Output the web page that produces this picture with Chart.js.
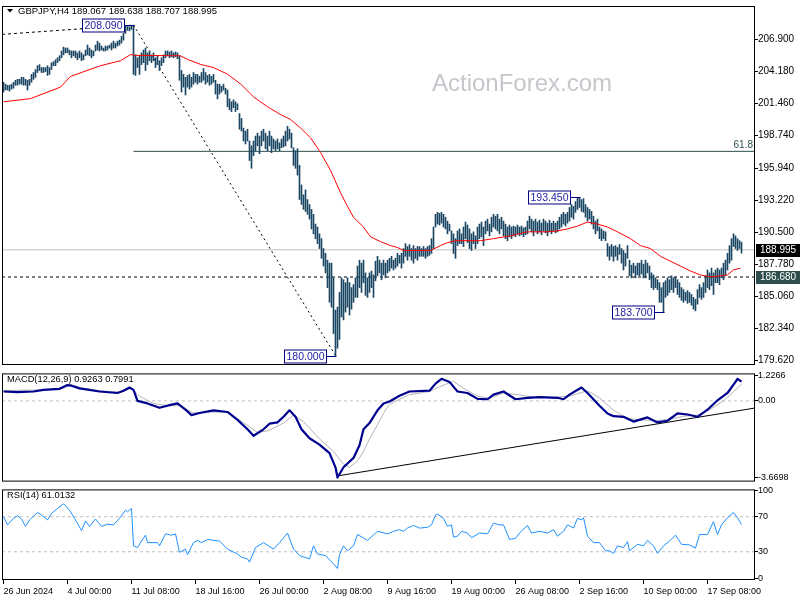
<!DOCTYPE html>
<html><head><meta charset="utf-8">
<script src="https://cdn.jsdelivr.net/npm/chart.js@4/dist/chart.umd.min.js"></script>
<style>
html,body{margin:0;padding:0;background:#fff;width:800px;height:600px;overflow:hidden}
canvas{position:absolute;left:0}
#cMain{top:0}
#cMacd{top:368px}
#cRsi{top:484px}
</style></head><body>
<canvas id="cMain" width="800" height="371"></canvas>
<canvas id="cMacd" width="800" height="119"></canvas>
<canvas id="cRsi" width="800" height="116"></canvas>
<script>
// ---------------- DATA ----------------
const symbolTitle = 'GBPJPY,H4 189.067 189.638 188.707 188.995';
const macdTitle = 'MACD(12,26,9) 0.9263 0.7991';
const rsiTitle = 'RSI(14) 61.0132';
const watermark = 'ActionForex.com';

const high = [
203.23,203.07,202.98,202.98,203.07,203.23,203.40,203.48,203.48,203.65,
203.65,203.48,203.40,203.48,203.90,204.06,204.31,204.64,204.73,204.48,
204.48,204.48,204.64,204.48,204.89,204.98,205.14,205.31,205.48,205.89,
206.22,206.14,206.14,205.97,205.89,205.89,205.89,205.73,205.89,205.73,
205.56,205.97,206.39,206.14,205.97,205.89,206.39,206.72,206.56,206.31,
206.14,206.31,206.31,206.39,206.56,206.72,206.56,206.72,206.81,207.14,
207.39,208.05,207.98,207.95,208.00,208.09,205.56,205.31,205.48,205.73,
205.97,206.14,205.73,205.89,205.56,205.73,205.31,205.48,205.06,205.31,
205.56,205.89,205.89,205.81,205.89,205.73,205.81,205.73,205.48,204.23,
203.90,203.65,203.81,203.90,203.65,204.06,203.90,203.90,203.73,204.06,
204.39,204.06,203.81,203.90,203.73,203.90,203.40,203.07,203.07,202.90,
203.07,202.73,202.57,201.82,201.57,201.74,201.57,201.40,200.57,200.16,
199.33,199.08,199.24,198.24,197.83,198.24,198.66,198.91,198.66,199.08,
199.24,198.91,198.66,199.08,198.66,198.41,198.24,198.41,198.08,198.41,
198.66,199.08,199.49,199.24,198.91,197.66,197.41,197.58,196.17,194.50,
193.67,194.09,193.26,192.84,192.43,192.01,191.18,190.93,190.35,189.94,
189.10,188.69,188.11,187.86,187.86,186.61,183.87,184.12,185.37,186.61,
186.45,186.20,186.61,186.20,185.78,186.03,186.61,187.61,188.11,187.86,
188.11,187.03,186.61,187.03,187.19,186.86,188.02,188.44,188.11,187.86,
188.11,187.86,188.11,188.27,188.44,188.11,188.27,188.69,188.52,188.69,
189.10,189.52,189.27,189.44,189.10,189.35,189.10,189.27,189.27,189.10,
189.27,189.10,189.27,189.35,189.94,190.93,192.01,192.18,192.09,192.18,
192.01,191.76,191.43,191.18,190.60,190.35,189.94,190.60,190.77,190.35,
190.93,191.35,191.10,190.77,190.35,190.52,190.18,190.93,191.18,191.35,
190.93,191.43,191.60,191.18,191.76,192.01,191.85,192.01,191.60,191.76,
191.43,191.18,190.93,191.10,190.93,191.01,190.93,191.10,190.93,191.01,
190.85,190.93,191.43,191.85,191.60,191.43,191.60,191.35,191.51,191.26,
191.60,191.43,191.26,191.51,191.26,191.43,191.26,191.43,191.76,192.01,
192.18,192.01,192.18,192.59,192.84,192.68,193.09,193.43,193.45,193.26,
193.34,192.84,192.59,192.43,192.26,191.85,191.43,191.60,190.93,190.77,
190.60,190.52,189.52,189.27,189.44,189.27,189.35,189.19,189.44,189.10,
188.94,188.69,189.35,188.11,187.69,187.86,187.61,187.86,187.86,188.11,
187.78,188.11,187.86,187.61,187.03,186.86,186.61,186.45,186.20,185.78,
186.20,186.36,186.61,186.45,186.78,186.61,186.70,186.45,186.20,185.78,
185.61,185.37,185.53,185.37,185.20,184.95,184.78,185.61,186.03,185.78,
186.20,186.78,187.28,187.03,187.44,187.03,187.28,187.44,187.28,187.44,
187.86,188.11,188.69,189.35,189.94,190.35,190.18,189.94,189.77,189.64
];
const low = [
202.40,202.57,202.57,202.48,202.65,202.73,202.98,202.98,203.07,203.07,
202.98,202.98,202.57,202.98,203.23,203.48,203.65,204.06,204.23,204.06,
204.06,204.14,203.81,203.90,204.31,204.64,204.64,204.89,205.06,205.31,
205.56,205.73,205.73,205.56,205.31,205.48,205.31,205.14,205.31,205.06,
205.14,205.48,205.56,205.48,205.31,205.48,205.89,205.97,205.89,205.97,
205.89,205.89,205.97,206.14,205.97,206.14,206.14,206.31,206.39,206.56,
206.81,207.39,207.64,207.60,207.72,203.90,203.81,204.48,203.90,204.73,
204.89,204.23,204.73,205.06,204.89,205.06,204.48,204.73,204.23,204.64,
204.89,205.31,205.48,205.31,205.39,205.31,205.39,205.23,203.40,202.40,
202.82,202.15,202.82,202.65,202.82,203.07,203.23,203.07,203.23,203.23,
203.40,203.07,203.23,202.98,203.07,203.23,202.23,201.82,202.23,202.40,
202.57,202.23,201.15,200.90,200.74,201.07,200.74,200.90,199.24,199.08,
198.24,197.99,198.24,196.58,195.92,197.00,197.41,197.83,197.16,197.83,
198.24,197.58,197.41,197.83,197.25,197.58,197.41,197.58,197.41,197.66,
197.74,197.83,198.24,198.41,197.66,196.17,195.92,195.34,193.26,192.84,
192.43,192.26,192.01,191.60,190.77,190.35,189.94,189.52,189.10,188.27,
187.61,187.03,185.78,184.53,184.12,181.88,180.00,180.63,181.38,183.29,
183.04,183.70,184.12,183.45,183.95,184.53,184.95,184.95,185.78,185.37,
186.20,185.12,184.95,185.37,185.78,184.95,186.36,186.78,187.03,186.45,
186.86,186.61,187.03,187.19,187.44,187.28,187.44,187.61,187.86,187.44,
187.86,188.44,188.11,188.44,188.11,187.86,188.27,188.11,188.44,188.44,
188.44,188.27,188.44,188.52,188.69,189.10,190.93,191.18,191.10,191.26,
190.93,190.77,190.35,190.60,189.52,188.69,188.27,189.35,189.52,189.52,
189.27,189.94,189.60,189.10,188.94,189.52,189.10,189.52,189.94,190.10,
189.35,190.35,190.60,190.18,190.52,190.93,190.77,190.60,190.35,190.77,
190.18,189.94,189.77,190.10,189.94,190.18,190.10,190.35,190.18,190.27,
190.10,190.27,190.35,190.77,190.52,190.18,190.60,190.35,190.52,190.27,
190.60,190.43,190.18,190.52,190.35,190.60,190.43,190.52,190.77,190.93,
191.18,191.01,191.26,191.43,191.76,191.60,192.18,192.43,192.59,192.26,
192.18,191.76,191.43,191.60,191.18,190.77,190.35,190.60,189.94,189.77,
189.94,189.77,188.44,188.11,188.44,188.02,188.44,188.11,188.61,187.86,
187.28,187.61,188.27,186.78,186.61,187.03,186.61,186.86,186.78,186.94,
186.61,186.61,187.03,186.45,185.78,185.61,185.78,185.61,184.53,184.53,
183.70,184.95,185.12,185.37,185.61,185.37,185.78,185.20,184.95,184.70,
184.53,184.70,184.45,184.53,184.28,183.95,183.80,184.37,184.95,184.78,
184.95,185.37,185.78,185.61,185.95,185.20,186.20,186.20,186.03,186.61,
186.45,186.78,187.28,187.86,188.11,189.27,189.10,188.94,189.10,188.71
];

// moving average (red), sampled at bar index
const maIdx = [0,13.5,28.5,33.5,48.5,58.5,63.5,66,88.5,92,98.5,105,112,118.5,125,132,138.5,143.5,148.5,153.5,158.5,163.5,168.5,172,175,180,183.5,188.5,193.5,197,200,213.5,218.5,222,226,238.5,245,253.5,262,272,277,282,287,292,297,302,307,313.5,318.5,323.5,328.5,333.5,338.5,343.5,348.5,353.5,358.5,362,365,368.5];
const maVal = [201.57,201.84,202.82,203.73,204.64,205.06,205.58,205.52,205.48,205.17,204.75,204.48,203.92,203.09,201.99,201.15,200.49,200.07,199.35,198.52,197.27,195.75,193.84,192.68,191.76,190.93,190.10,189.69,189.35,189.19,188.94,188.94,189.35,189.60,189.77,189.77,189.94,190.18,190.52,190.52,190.60,190.77,191.01,191.35,191.18,190.93,190.52,189.94,189.35,189.10,188.44,188.02,187.61,187.19,186.86,186.69,186.78,186.86,187.28,187.44];

// MACD main & signal
const macdIdx = [0,7,15,20,28,32,34,38,43,48,57,60,63,65,67,72,78,83,87,91,94,98,105,112,117,122,125,130,133,137,140,143,146,149,153,158,163,166,167,170,175,178,180,183,187,190,193,198,203,213,216,219,223,227,232,237,242,245,250,256,262,268,277,280,283,289,292,298,302,305,310,315,322,327,332,337,342,347,352,357,362,366,367,369];
const macdVal = [0.45,0.42,0.45,0.53,0.58,0.76,0.73,0.60,0.53,0.45,0.38,0.49,0.64,0.53,0.00,-0.12,-0.33,-0.20,-0.12,-0.42,-0.68,-0.58,-0.45,-0.53,-0.91,-1.36,-1.67,-1.36,-1.09,-1.03,-0.76,-0.45,-0.76,-1.36,-1.79,-2.09,-2.50,-3.18,-3.67,-3.18,-2.73,-2.12,-1.36,-1.06,-0.45,-0.12,-0.03,0.25,0.45,0.49,0.83,1.06,0.91,0.45,0.38,0.10,0.08,0.30,0.45,0.08,0.15,0.18,0.15,0.08,0.30,0.64,0.38,-0.23,-0.60,-0.73,-0.76,-0.99,-0.79,-1.03,-0.95,-0.60,-0.65,-0.76,-0.42,0.03,0.38,0.91,1.06,0.9263];
const sigIdx = [0,20,30,33.5,40,48,58,64,68,75,82,88,95,102,112,118,127,132,140,145,150,158,165,170,173,177,180,183,187,190,193,198,203,213,218,225,230,237,243,250,257,265,277,283,292,298,305,312,318,327,333,340,347,353,360,369];
const sigVal = [0.50,0.53,0.60,0.79,0.59,0.49,0.42,0.60,0.23,-0.12,-0.23,-0.23,-0.58,-0.53,-0.53,-0.91,-1.51,-1.44,-1.06,-0.68,-0.99,-1.82,-2.42,-3.03,-3.18,-2.88,-2.42,-1.82,-1.14,-0.60,-0.15,0.08,0.30,0.45,0.68,0.94,0.60,0.23,0.12,0.38,0.30,0.18,0.18,0.23,0.49,0.15,-0.45,-0.83,-0.91,-0.94,-0.88,-0.73,-0.68,-0.42,0.00,0.7991];

// RSI(14)
const rsiIdx = [0,2,5,7,9,11,13,17,19,22,24,27,30,33,36,39,41,43,46,49,52,55,58,61,62,64,65,67,69,71,72,77,78,81,84,86,88,91,92,95,97,99,102,105,108,112,117,119,122,123,126,130,135,138,142,145,148,153,155,157,161,165,167,168,170,172,175,177,182,187,192,195,198,200,202,205,208,212,214,216,217,220,222,224,225,227,229,232,234,238,242,245,248,250,253,256,258,262,264,268,272,275,277,280,282,285,287,289,290,292,295,298,301,303,305,307,310,312,313,317,320,322,325,327,330,333,336,339,343,346,348,352,355,357,359,362,365,367,369];
const rsiVal = [70,60.7,68,71,67.4,58.9,66.3,74.8,71.9,66.3,73.7,79.3,84.8,77.4,66.3,54.1,65.2,58.9,67.4,58.9,61.5,60.7,68.1,77.4,75.6,79.3,36.7,34.8,42.2,48.9,40.4,40.4,36.7,50.4,48.9,50.4,29.3,33,26.7,40.4,43,40.4,44.1,43,42.2,33,27.4,23.7,21.9,18.1,34.8,40.4,33,40.4,51.4,33,25.6,21.9,36.7,27.4,25.6,16.3,10.8,26.7,36.7,31.1,36.7,49.7,43,53.3,50.4,53.3,55.2,53.3,57,60,57,57.8,60.7,71.9,73,68.1,58.9,60.7,46.7,47.8,53.3,51.4,45.9,51.4,50.4,62.6,60.7,60.7,44.1,45.2,51.4,60,51.4,53.3,51.4,55.2,47.8,53.3,60.7,57,68.1,66.3,68.9,47.8,40.4,40.4,31.1,31.1,28.1,36.7,34.8,41.5,31.1,38.5,36.7,43,36.7,28.1,36.7,42.2,48.9,38.5,37.8,34.1,49.7,49.7,64.4,49.7,60.7,68.9,74.8,68.9,61.0132];

// levels / drawn objects
const lastPrice = 188.995;
const supportLevel = 186.680;
const fibLevel = 197.36;          // 61.8 retracement
const fibLabel = '61.8';
const fibStartIdx = 65;
const extremeIdx = [65,166,288,330];
const extremeVal = [208.090,180.000,193.450,183.700];
const leadIdx = [-0.75,65];       // dashed line into the 208.090 top
const leadVal = [207.30,208.09];
const diagIdx = [65,166];         // dashed 208.090 -> 180.000
const diagVal = [208.09,180.00];
const macdTrendIdx = [167,375.75];
const macdTrendVal = [-3.59,-0.34];

// axis ticks
const priceTicks = [179.62,182.34,185.06,187.78,190.50,193.22,195.94,198.74,201.46,204.18,206.90];
const priceTickLabels = ['179.620','182.340','185.060','187.780','190.500','193.220','195.940','198.740','201.460','204.180','206.900'];
const macdTicks = [1.2266,0,-3.6698];
const macdTickLabels = ['1.2266','0.00','-3.6698'];
const rsiTicks = [100,70,30,0];
const rsiTickLabels = ['100','70','30','0'];
const rsiLevels = [70,30];
const dateTickIdx = [0,32,64,96,128,160,192,224,256,288,320,352];
const dateTickLabels = ['26 Jun 2024','4 Jul 00:00','11 Jul 08:00','18 Jul 16:00','26 Jul 00:00','2 Aug 08:00','9 Aug 16:00','19 Aug 00:00','26 Aug 08:00','2 Sep 16:00','10 Sep 00:00','17 Sep 08:00'];

// ---------------- RENDER ----------------
const FONT = "'Liberation Sans', Arial, sans-serif";
Chart.defaults.font.family = FONT;
Chart.defaults.color = '#000';
const X_MIN = -0.75, X_MAX = 375.75;
const pts = (xs, ys) => xs.map((x, i) => ({x: x, y: ys[i]}));
const hline = (v, x0) => [{x: x0, y: v}, {x: X_MAX, y: v}];

const framePlugin = {
  id: 'frame',
  afterDatasetsDraw(chart) {
    const {ctx, chartArea: a} = chart;
    ctx.save();
    ctx.strokeStyle = '#000'; ctx.lineWidth = 1;
    ctx.strokeRect(a.left + 0.5, a.top + 0.5, a.right - a.left - 1, a.bottom - a.top - 1);
    ctx.restore();
  }
};

function xAxis(show) {
  const ax = {
    type: 'linear', min: X_MIN, max: X_MAX, offset: false, display: show,
    border: {display: false},
    grid: {display: show, drawOnChartArea: false, drawTicks: true, tickLength: 4, color: '#000'},
    afterBuildTicks: s => { s.ticks = dateTickIdx.map(v => ({value: v})); },
    ticks: {autoSkip: false, maxRotation: 0, align: 'start', padding: 2, font: {size: 9},
            callback: (v, i) => dateTickLabels[i]}
  };
  if (show) ax.afterFit = s => { s.height = 20; };
  return ax;
}
function yAxis(min, max, tickVals, tickLabels, size) {
  return {
    type: 'linear', position: 'right', min: min, max: max,
    border: {display: false},
    grid: {drawOnChartArea: false, drawTicks: true, tickLength: 3, color: '#000'},
    afterBuildTicks: s => { s.ticks = tickVals.map(v => ({value: v})); },
    afterFit: s => { s.width = 45; },
    ticks: {autoSkip: false, padding: 0, font: {size: size}, callback: (v, i) => tickLabels[i]}
  };
}
const baseOpts = {
  responsive: false, animation: false, devicePixelRatio: 1, events: [],
  plugins: {legend: {display: false}, tooltip: {enabled: false}}
};

// ---- main price panel ----
const mainDeco = {
  id: 'mainDeco',
  beforeDatasetsDraw(chart) {
    const {ctx} = chart;
    ctx.save();
    ctx.font = '24px ' + FONT; ctx.fillStyle = '#c4c8cc';
    ctx.textAlign = 'center'; ctx.textBaseline = 'middle';
    ctx.fillText(watermark, 522, 84);
    ctx.restore();
  },
  afterDatasetsDraw(chart) {
    const {ctx} = chart;
    const xs = chart.scales.x, ys = chart.scales.y;
    ctx.save();
    // extreme labels
    ctx.font = '10.5px ' + FONT; ctx.textAlign = 'center'; ctx.textBaseline = 'middle';
    extremeIdx.forEach((idx, k) => {
      const px = Math.round(xs.getPixelForValue(idx)) + 0.5;
      const py = Math.round(ys.getPixelForValue(extremeVal[k])) + 0.5;
      const w = 42, h = 13, right = px - 10;
      ctx.fillStyle = '#fff';
      ctx.fillRect(right - w, py - h / 2, w, h);
      ctx.strokeStyle = '#000080'; ctx.lineWidth = 1;
      ctx.strokeRect(right - w, py - h / 2, w, h);
      ctx.beginPath(); ctx.moveTo(right, py); ctx.lineTo(px, py); ctx.stroke();
      ctx.fillStyle = '#1c1ca0';
      ctx.fillText(extremeVal[k].toFixed(3), right - w / 2, py + 0.5);
    });
    // 61.8 label
    ctx.font = '10px ' + FONT; ctx.fillStyle = '#2f4f4f';
    ctx.textAlign = 'right'; ctx.textBaseline = 'bottom';
    ctx.fillText(fibLabel, 753, Math.round(ys.getPixelForValue(fibLevel)) - 1);
    // price tags on the axis
    const tag = (v, bg) => {
      const py = Math.round(ys.getPixelForValue(v));
      ctx.fillStyle = bg; ctx.fillRect(756, py - 6, 44, 13);
      ctx.fillStyle = '#fff'; ctx.font = '10px ' + FONT;
      ctx.textAlign = 'left'; ctx.textBaseline = 'middle';
      ctx.fillText(v.toFixed(3), 760, py + 0.5);
    };
    tag(lastPrice, '#000');
    tag(supportLevel, '#2f4f4f');
    // title
    ctx.fillStyle = '#000';
    ctx.beginPath(); ctx.moveTo(7, 9); ctx.lineTo(13, 9); ctx.lineTo(10, 12.5); ctx.closePath(); ctx.fill();
    ctx.font = '9.5px ' + FONT; ctx.textAlign = 'left'; ctx.textBaseline = 'middle';
    ctx.fillText(symbolTitle, 18, 11);
    ctx.restore();
  }
};

new Chart(document.getElementById('cMain'), {
  type: 'bar',
  data: {datasets: [
    {type: 'line', data: pts(maIdx, maVal), borderColor: '#ff0000', borderWidth: 1, pointRadius: 0, order: 0},
    {type: 'bar', data: high.map((h, i) => ({x: i, y: [low[i], h]})), backgroundColor: '#1b4663',
     barThickness: 1, borderWidth: 0, grouped: false, order: 1},
    {type: 'line', data: pts(diagIdx, diagVal), borderColor: '#000', borderWidth: 1, borderDash: [2, 3], pointRadius: 0, order: 2},
    {type: 'line', data: pts(leadIdx, leadVal), borderColor: '#000', borderWidth: 1, borderDash: [3, 3], pointRadius: 0, order: 2},
    {type: 'line', data: hline(supportLevel, X_MIN), borderColor: '#000', borderWidth: 1, borderDash: [3, 3], pointRadius: 0, order: 3},
    {type: 'line', data: hline(fibLevel, fibStartIdx), borderColor: '#2f4f4f', borderWidth: 1, pointRadius: 0, order: 3},
    {type: 'line', data: hline(lastPrice, X_MIN), borderColor: '#c0c0c0', borderWidth: 1, pointRadius: 0, order: 4}
  ]},
  options: Object.assign({}, baseOpts, {
    layout: {padding: {left: 2, top: 2, right: 0, bottom: 2}},
    scales: {x: xAxis(false), y: yAxis(179.204, 209.712, priceTicks, priceTickLabels, 10)}
  }),
  plugins: [framePlugin, mainDeco]
});

// ---- MACD panel ----
const titleDeco = (text, y) => ({
  id: 'title' + y,
  afterDatasetsDraw(chart) {
    const {ctx} = chart;
    ctx.save(); ctx.fillStyle = '#000'; ctx.font = '9.3px ' + FONT;
    ctx.textAlign = 'left'; ctx.textBaseline = 'middle';
    ctx.fillText(text, 7, y); ctx.restore();
  }
});
new Chart(document.getElementById('cMacd'), {
  type: 'line',
  data: {datasets: [
    {data: pts(macdIdx, macdVal), borderColor: '#000090', borderWidth: 2.2, pointRadius: 0, order: 0, borderJoinStyle: 'round'},
    {data: pts(sigIdx, sigVal), borderColor: '#b4b4b4', borderWidth: 1, pointRadius: 0, order: 1},
    {data: hline(0, X_MIN), borderColor: '#c0c0c0', borderWidth: 1, borderDash: [3, 3], pointRadius: 0, order: 3},
    {data: pts(macdTrendIdx, macdTrendVal), borderColor: '#000', borderWidth: 1, pointRadius: 0, order: 2}
  ]},
  options: Object.assign({}, baseOpts, {
    layout: {padding: {left: 2, top: 3, right: 0, bottom: 2}},
    scales: {x: xAxis(false), y: yAxis(-3.864, 1.318, macdTicks, macdTickLabels, 9)}
  }),
  plugins: [framePlugin, titleDeco(macdTitle, 11.5)]
});

// ---- RSI panel ----
new Chart(document.getElementById('cRsi'), {
  type: 'line',
  data: {datasets: [
    {data: pts(rsiIdx, rsiVal), borderColor: '#1e90ff', borderWidth: 1, pointRadius: 0, order: 0},
    {data: hline(rsiLevels[0], X_MIN), borderColor: '#c0c0c0', borderWidth: 1, borderDash: [3, 3], pointRadius: 0, order: 2},
    {data: hline(rsiLevels[1], X_MIN), borderColor: '#c0c0c0', borderWidth: 1, borderDash: [3, 3], pointRadius: 0, order: 2}
  ]},
  options: Object.assign({}, baseOpts, {
    layout: {padding: {left: 2, top: 3, right: 0, bottom: 0}},
    scales: {x: xAxis(true), y: yAxis(-2.22, 101.11, rsiTicks, rsiTickLabels, 9)}
  }),
  plugins: [framePlugin, titleDeco(rsiTitle, 11.5)]
});
</script>
</body></html>
